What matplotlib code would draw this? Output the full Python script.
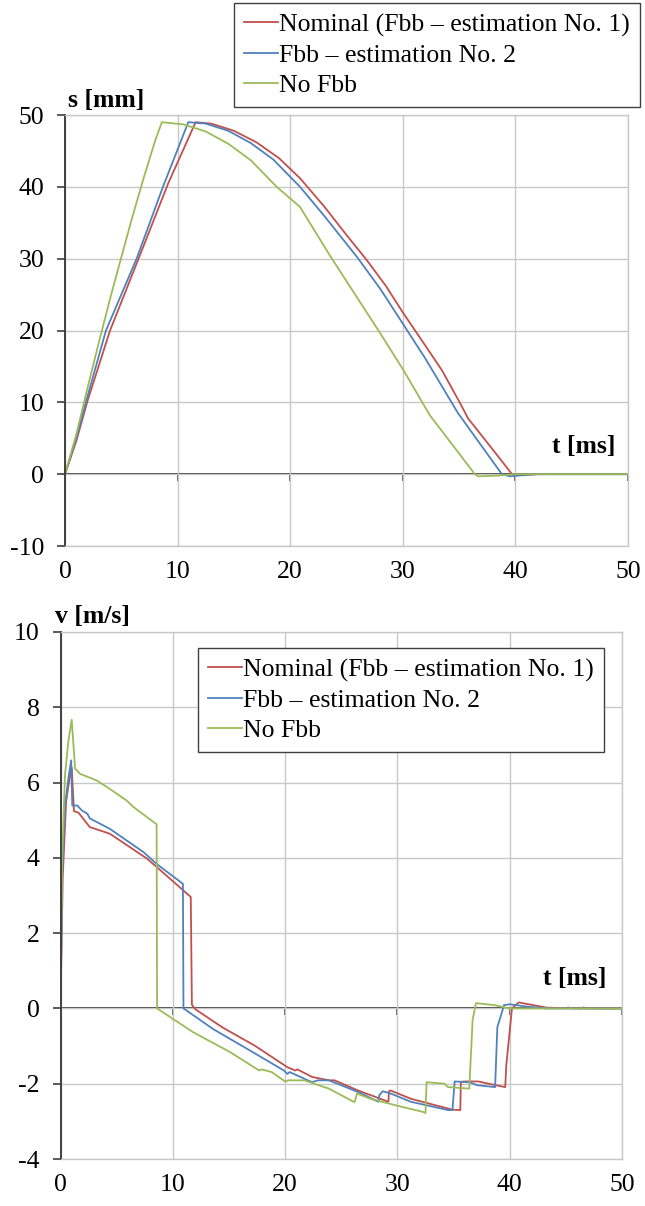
import matplotlib
matplotlib.use("Agg")
import matplotlib.pyplot as plt

plt.rcParams['font.family'] = ['Liberation Serif', 'DejaVu Serif']
plt.rcParams['font.size'] = 18.5
plt.rcParams['axes.unicode_minus'] = False

# --- данные: перемещение s(t) ---
t_s_nom = [0, 1, 2, 4, 6.66, 9.17, 11.6, 13, 15, 17, 19, 20.87, 23, 25, 26.8, 28.5,
           30.05, 32, 33.5, 35.1, 35.8, 37.5, 39.7, 40.5, 42, 50]
s_nom = [0, 4.6, 10.2, 20, 30.5, 40.5, 49, 48.8, 47.8, 46.2, 44.0, 41.2, 37.3, 33.3, 29.8, 26.2,
         22.4, 17.9, 14.4, 9.85, 7.75, 4.4, 0, -0.1, 0, 0]

t_s_fbb2 = [0, 1, 1.85, 3.64, 6.36, 8.7, 10.95, 12.5, 14.5, 16.5, 18.5, 20.87, 23, 25.9, 28,
            29.9, 32, 34.9, 38.8, 39.5, 41, 42, 50]
s_fbb2 = [0, 5, 10, 20, 30, 40, 49, 48.8, 47.8, 46.1, 43.8, 40.0, 36.0, 30.3, 25.8,
          21.2, 16.1, 8.5, 0, -0.3, -0.1, 0, 0]

t_s_nofbb = [0, 1, 2, 3, 4, 5, 6, 7, 8, 8.6, 10.5, 12.5, 14.5, 16.5, 18.8, 20.87, 23.5,
             28.0, 30.05, 32.4, 36.4, 36.7, 38.5, 40, 50]
s_nofbb = [0, 5.5, 12, 18.3, 24.4, 30.2, 35.9, 41.3, 46.4, 49, 48.7, 47.7, 46.0, 43.7, 40.0, 37.2, 30.5,
           19.6, 14.5, 8.2, 0, -0.3, -0.2, 0, 0]

# --- данные: скорость v(t) ---
t_v_nom = [0, 0.2, 0.5, 0.8, 1.0, 1.2, 1.6, 2.0, 2.6, 4.4, 7.7, 8.9, 11.6, 11.7, 12.0, 14.4,
           17.3, 20.2, 20.9, 21.1, 22.4, 23.9, 24.4, 26.5, 29.2, 29.25, 29.4, 31.2, 34.9, 35.6,
           35.65, 36.0, 37.2, 38.6, 39.6, 39.7, 40.2, 40.8, 43.3, 46.5, 46.6, 46.7, 50]
v_nom = [0, 3.5, 5.5, 6.1, 6.4, 5.24, 5.2, 5.05, 4.82, 4.64, 3.98, 3.67, 2.96, 0.1, -0.02, -0.5,
         -0.99, -1.56, -1.65, -1.62, -1.82, -1.91, -1.91, -2.18, -2.48, -2.2, -2.18, -2.4, -2.69, -2.7,
         -1.95, -1.94, -1.94, -2.03, -2.09, -1.5, 0, 0.16, 0.02, 0, 0.03, 0, 0]

t_v_fbb2 = [0, 0.15, 0.4, 0.7, 0.95, 1.05, 1.5, 1.9, 2.4, 2.6, 4.4, 7.4, 8.56, 10.9, 10.95, 11.25,
            13.6, 16.6, 19.9, 20.2, 20.4, 22.4, 22.9, 23.9, 26.5, 28.3, 28.4, 28.7, 29.4, 31.2,
            34.5, 34.9, 35.1, 36.4, 37.1, 38.7, 38.9, 39.5, 40.0, 41.5, 43.3, 45.1, 45.2, 45.3, 50]
v_fbb2 = [0, 3.5, 5.4, 6.1, 6.59, 5.39, 5.39, 5.26, 5.17, 5.05, 4.77, 4.15, 3.84, 3.31, 0, -0.06,
          -0.55, -1.07, -1.65, -1.74, -1.69, -1.96, -1.91, -1.91, -2.22, -2.48, -2.3, -2.2, -2.26, -2.48,
          -2.7, -2.7, -1.94, -1.96, -2.04, -2.09, -0.5, 0.09, 0.11, 0.05, 0.0, 0, 0.03, 0, 0]

t_v_nofbb = [0, 0.15, 0.4, 0.7, 1.0, 1.3, 1.75, 3.2, 4.4, 5.9, 6.5, 8.56, 8.6, 11.8, 15.1, 17.7,
             17.9, 18.8, 20.0, 20.3, 21.7, 23.9, 26.1, 26.2, 26.4, 27.6, 29.8, 32.3, 32.5, 32.6,
             34.2, 34.5, 36.4, 36.7, 37.0, 38.6, 40.0, 50]
v_nofbb = [0, 4.0, 6.2, 7.1, 7.67, 6.37, 6.23, 6.06, 5.83, 5.52, 5.35, 4.89, 0, -0.63, -1.16, -1.65,
           -1.62, -1.69, -1.94, -1.91, -1.91, -2.13, -2.48, -2.48, -2.26, -2.4, -2.57, -2.75, -2.78, -1.96,
           -2.0, -2.09, -2.13, -0.3, 0.14, 0.09, 0, 0]

labels = ['Nominal (Fbb \u2013 estimation No. 1)', 'Fbb \u2013 estimation No. 2', 'No Fbb']
colors = ['#C0504D', '#4F81BD', '#9BBB59']

W, H = 645, 1206
fig = plt.figure(figsize=(W / 100, H / 100), dpi=100)

ax1 = fig.add_axes([65 / W, 1 - 546 / H, (628 - 65) / W, (546 - 115) / H])
ax2 = fig.add_axes([60.5 / W, 1 - 1159 / H, (622 - 60.5) / W, (1159 - 632) / H])


def style_axes(ax, ylim, yticks):
    ax.set_xlim(0, 50)
    ax.set_ylim(*ylim)
    ax.set_xticks(range(0, 51, 10))
    ax.set_yticks(yticks)
    ax.grid(True, color='#c8c8c8', linewidth=1.0)
    ax.set_axisbelow(True)
    for side in ['top', 'right', 'bottom']:
        ax.spines[side].set_color('#c8c8c8')
        ax.spines[side].set_linewidth(1.0)
    ax.spines['left'].set_color('#404040')
    ax.spines['left'].set_linewidth(1.4)
    ax.tick_params(axis='y', direction='out', length=6, width=1.2, color='#404040', pad=9)
    ax.tick_params(axis='x', length=0, pad=11)
    # ось t проходит через ноль
    sec = ax.secondary_xaxis(0, transform=ax.transData)
    sec.set_xticks(range(10, 51, 10))
    sec.tick_params(axis='x', direction='out', length=5, width=1.2, color='#404040', labelbottom=False)
    sec.spines['bottom'].set_color('#404040')
    sec.spines['bottom'].set_linewidth(1.4)


style_axes(ax1, (-10, 50), range(-10, 51, 10))
style_axes(ax2, (-4, 10), range(-4, 11, 2))

lw = 1.3
h1 = ax1.plot(t_s_nom, s_nom, color=colors[0], lw=lw)[0]
h2 = ax1.plot(t_s_fbb2, s_fbb2, color=colors[1], lw=lw)[0]
h3 = ax1.plot(t_s_nofbb, s_nofbb, color=colors[2], lw=lw)[0]

ax2.plot(t_v_nom, v_nom, color=colors[0], lw=lw)
ax2.plot(t_v_fbb2, v_fbb2, color=colors[1], lw=lw)
ax2.plot(t_v_nofbb, v_nofbb, color=colors[2], lw=lw)

leg_kw = dict(loc='upper right', handlelength=1.3, handletextpad=0.05, borderpad=0.4,
              labelspacing=0.28, borderaxespad=0, fancybox=False, framealpha=1,
              edgecolor='#404040', fontsize=18.5)

leg1 = fig.legend([h1, h2, h3], labels, bbox_to_anchor=(640 / W, 1 - 3 / H), **leg_kw)
leg2 = ax2.legend([h1, h2, h3], labels, bbox_to_anchor=(604 / W, 1 - 648 / H),
                  bbox_transform=fig.transFigure, **leg_kw)
for leg in (leg1, leg2):
    leg.get_frame().set_linewidth(1.0)

fig.text(68 / W, 1 - 107 / H, 's [mm]', fontweight='bold', ha='left', va='baseline')
fig.text(615 / W, 1 - 453 / H, 't [ms]', fontweight='bold', ha='right', va='baseline')
fig.text(55 / W, 1 - 623 / H, 'v [m/s]', fontweight='bold', ha='left', va='baseline')
fig.text(606 / W, 1 - 985 / H, 't [ms]', fontweight='bold', ha='right', va='baseline')

fig.savefig('out.png', dpi=100)
